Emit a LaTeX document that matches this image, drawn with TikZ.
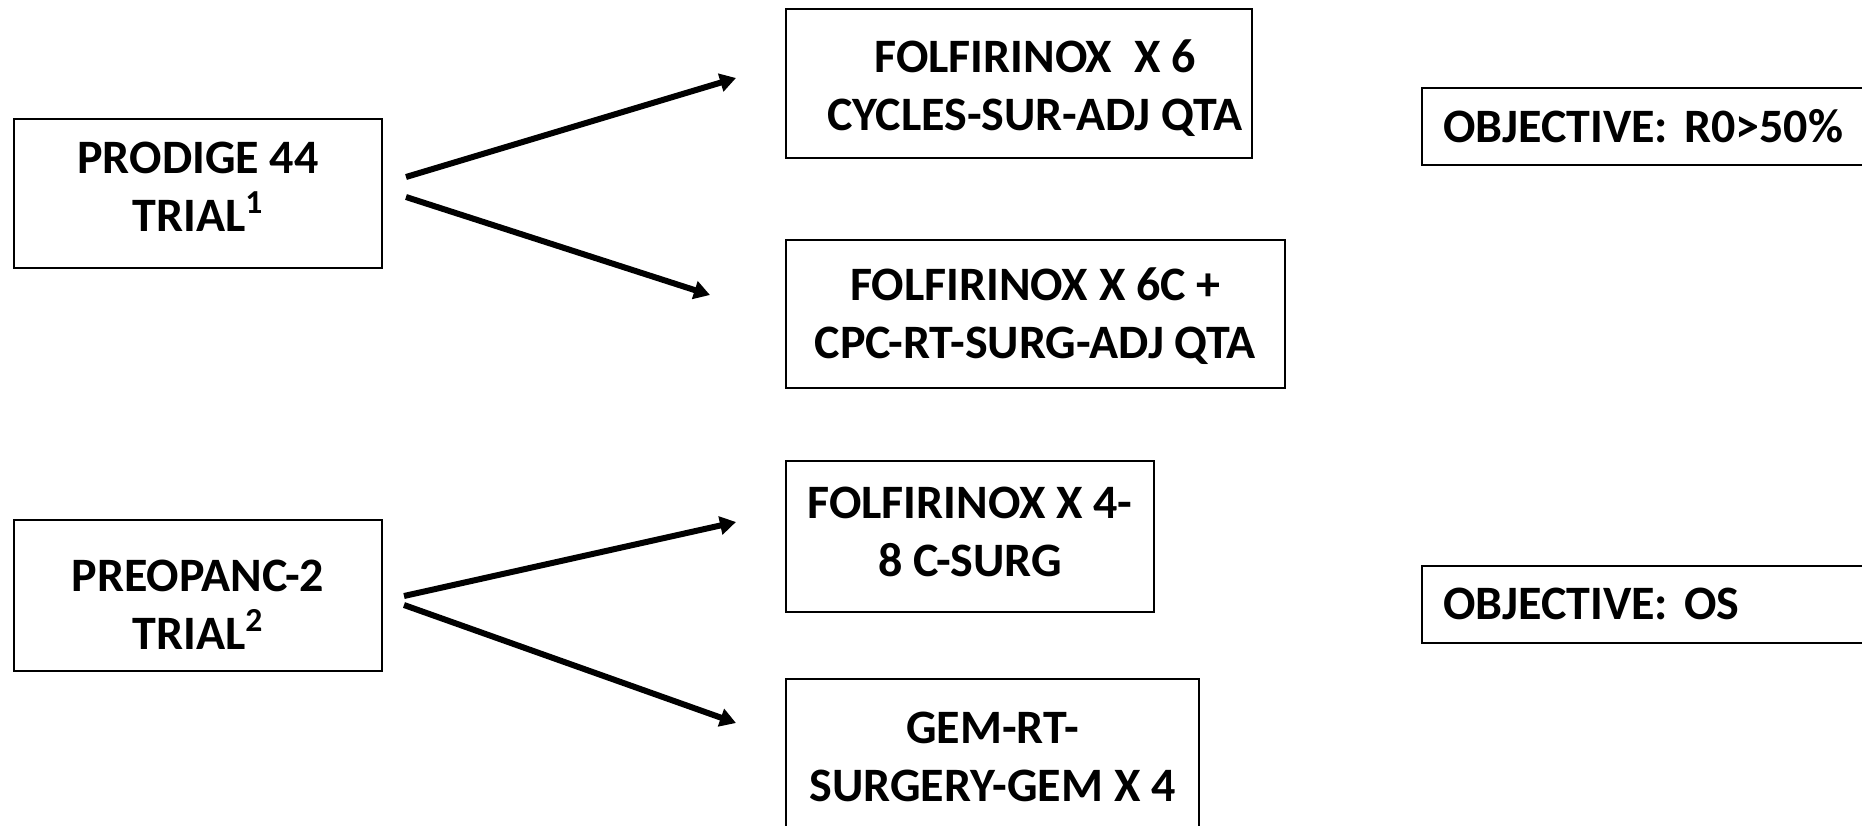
\documentclass[tikz,border=0pt]{standalone}
\usepackage{fontspec}
\setmainfont{Carlito}
\frenchspacing
\usetikzlibrary{arrows.meta,calc}
\begin{document}
\begin{tikzpicture}[x=0.5pt,y=-0.5pt,
  frame/.style={draw=black, line width=1pt, inner sep=0pt},
  txt/.style={align=center, inner sep=0pt,
    font=\bfseries\fontsize{24}{29}\selectfont},
  objbox/.style={frame, txt, align=left, anchor=west, inner xsep=10.5pt,
    minimum width=240pt, minimum height=38.5pt, text width=219pt},
  arr/.style={line width=3pt, -{Triangle[length=8pt,width=9pt]}}]
\useasboundingbox (0,0) rectangle (1862,825);
% trial boxes
\node[frame, minimum width=184pt, minimum height=74.5pt] (p44) at (198,193.5) {};
\node[txt] (p44t) at ($(p44.center)+(0,-7)$) {PRODIGE 44\\TRIAL\textsuperscript{1}};
\node[frame, minimum width=184pt, minimum height=75.5pt] (pre) at (198,595.5) {};
\node[txt] (pret) at ($(pre.center)+(0,9)$) {PREOPANC-2\\TRIAL\textsuperscript{2}};
% arm boxes
\node[frame, minimum width=233pt, minimum height=74.5pt] (f1) at (1019,83.5) {};
\node[txt] (f1t) at ($(f1.center)+(16,5)$) {FOLFIRINOX\ \ X 6\\CYCLES-SUR-ADJ QTA};
\node[frame, minimum width=249.5pt, minimum height=74pt] (f2) at (1035.5,314) {};
\node[txt] (f2t) at ($(f2.center)+(0,2)$) {FOLFIRINOX X 6C +\\CPC-RT-SURG-ADJ QTA};
\node[frame, minimum width=184pt, minimum height=75.5pt] (f3) at (970,536.5) {};
\node[txt] (f3t) at ($(f3.center)+(0,-5)$) {FOLFIRINOX X 4-\\8 C-SURG};
\node[frame, minimum width=206.5pt, minimum height=75pt] (gem) at (992.5,754) {};
\node[txt] (gemt) at ($(gem.center)+(0,3)$) {GEM-RT-\\SURGERY-GEM X 4};
% objective boxes
\node[objbox] (o1) at (1421,126.5) {OBJECTIVE: R0>50\%};
\node[objbox] (o2) at (1421,604) {OBJECTIVE: OS};
% connectors
\draw[arr] ($(p44.east)+(23,-16.5)$) -- ($(f1.west)+(-49,-5.5)$);
\draw[arr] ($(p44.east)+(23,3.5)$) -- ($(f2.west)+(-75,-19)$);
\draw[arr] ($(pre.east)+(21,0.5)$) -- ($(f3.west)+(-49,-14.5)$);
\draw[arr] ($(pre.east)+(21,9.5)$) -- ($(gem.west)+(-49,-31)$);
\end{tikzpicture}
\end{document}
